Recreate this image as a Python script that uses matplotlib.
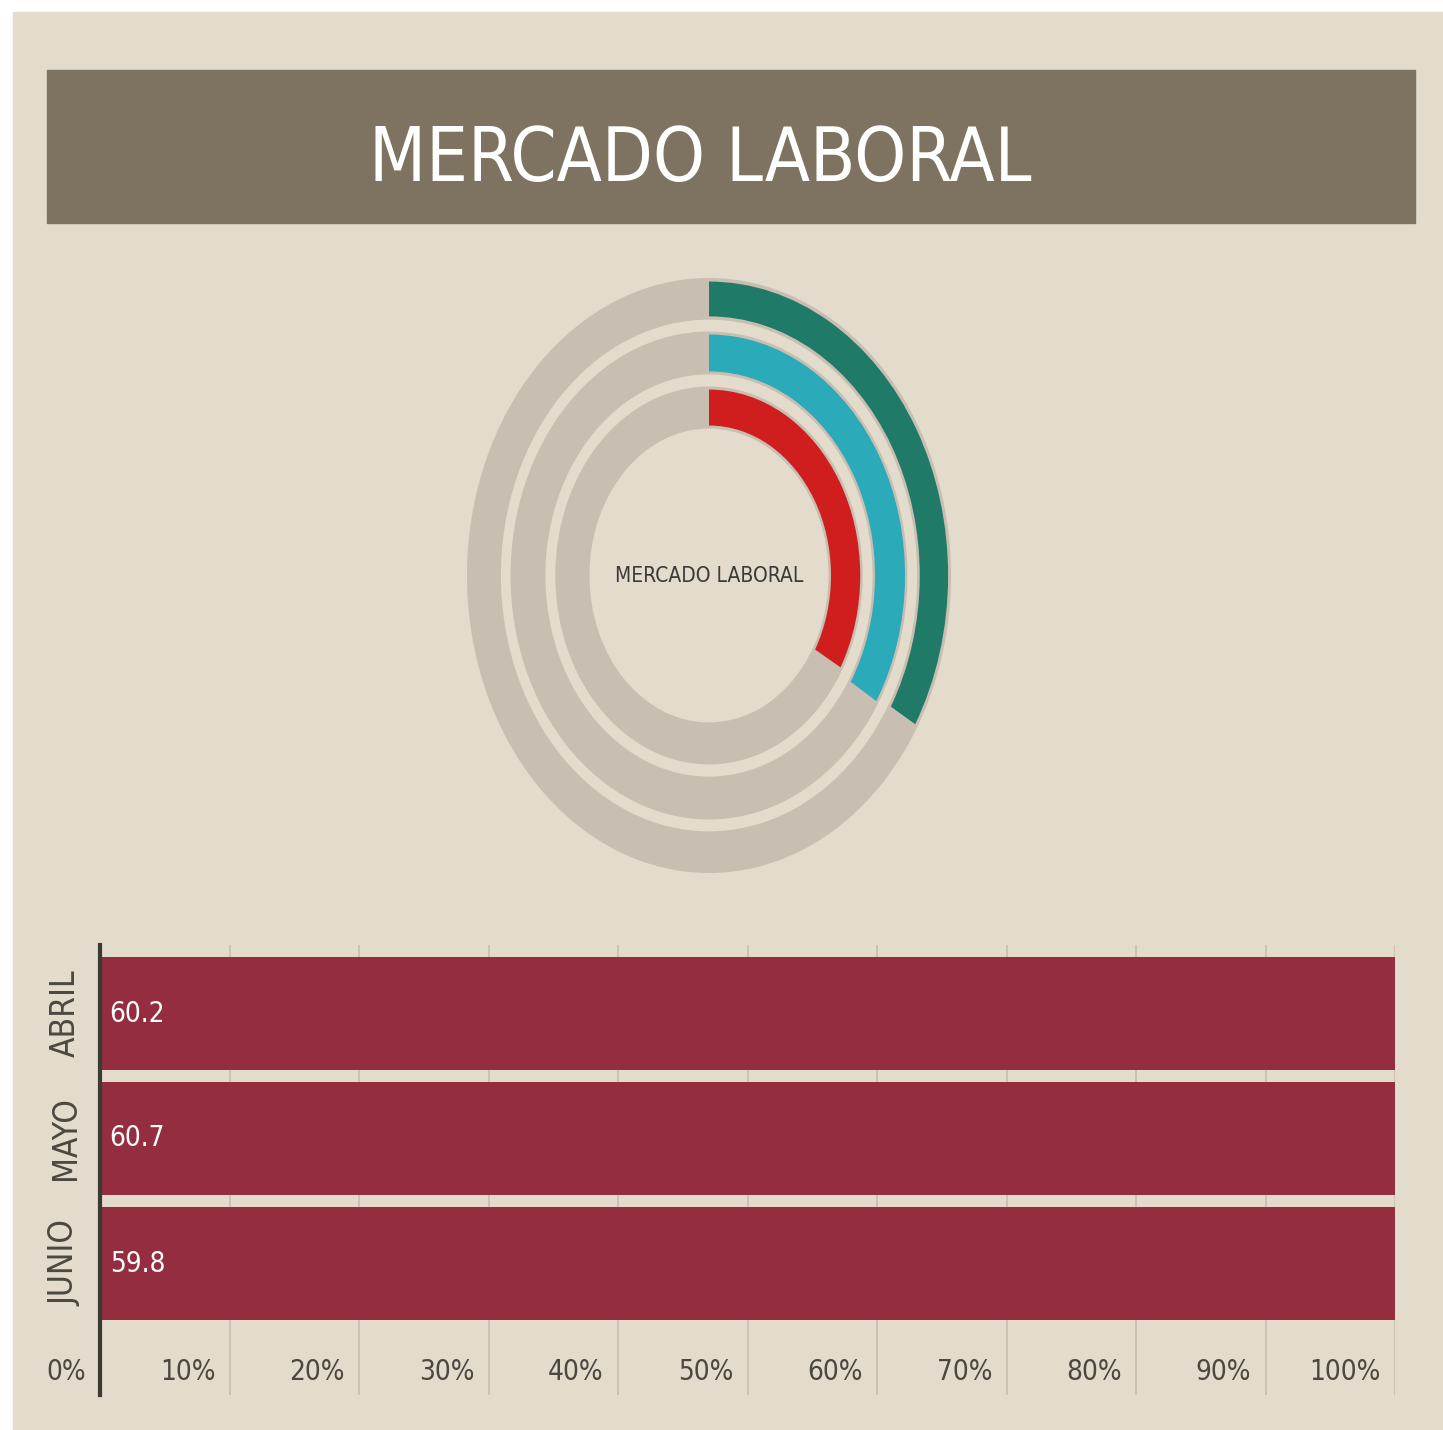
import matplotlib
matplotlib.use("Agg")
import matplotlib.pyplot as plt
from matplotlib.patches import Rectangle, Wedge

plt.rcParams['font.family'] = ['DejaVu Sans']
plt.rcParams['font.stretch'] = 'condensed'

# data
months = ["ABRIL", "MAYO", "JUNIO"]
values = [60.2, 60.7, 59.8]
ring_max = 180.0
ring_colors = ["#1F7A68", "#2BAAB9", "#D01E1F"]   # outer -> inner
tick_vals = [0, 10, 20, 30, 40, 50, 60, 70, 80, 90, 100]

W, H = 1443, 1430
fig = plt.figure(figsize=(W / 100, H / 100), dpi=100, facecolor="white")

bg = "#E3DBCB"
ring_gray = "#C8BEB1"
text_gray = "#4A4840"


def px_axes(x0, y0, x1, y1):
    return fig.add_axes([x0 / W, 1 - y1 / H, (x1 - x0) / W, (y1 - y0) / H])


# panel + title banner
fig.patches.append(Rectangle((13 / W, 0), 1 - 13 / W, 1 - 12 / H,
                             transform=fig.transFigure, color=bg, zorder=-2))
fig.patches.append(Rectangle((47 / W, 1 - 223 / H), (1415 - 47) / W, (223 - 70) / H,
                             transform=fig.transFigure, color="#7E7360", zorder=-1))
fig.text(700 / W, 1 - 181 / H, "MERCADO LABORAL", color="white", fontsize=53,
         ha="center", va="baseline")

#%% radial chart
axr = px_axes(467, 278, 951, 873)
axr.set_xlim(-1, 1)
axr.set_ylim(-1, 1)
axr.set_aspect("auto")
axr.axis("off")

gray_rings = [(1.0, 0.140), (0.820, 0.144), (0.635, 0.141)]
col_rings = [(0.988, 0.117), (0.810, 0.124), (0.625, 0.121)]
for (r, w) in gray_rings:
    axr.add_patch(Wedge((0, 0), r, 0, 360, width=w, color=ring_gray, lw=0))
for (r, w), v, c in zip(col_rings, values, ring_colors):
    ang = v / ring_max * 360
    axr.add_patch(Wedge((0, 0), r, 90 - ang, 90, width=w, color=c, lw=0))
axr.text(0, 0, "MERCADO LABORAL", ha="center", va="center", fontsize=15,
         color="#3A3A38")

#%% bar chart
axb = px_axes(100, 945, 1395, 1395)
axb.set_facecolor("none")
axb.set_xlim(0, 100)
axb.set_ylim(3.052, -0.548)
shares = [v / v * 100 for v in values]
ypos = list(range(len(months)))
axb.vlines(tick_vals[1:], -0.548, 3.052, color="#C6BEB1", lw=1.2, zorder=1)
axb.barh(ypos, shares, height=0.9, color="#952D41", zorder=2)
for y, v in zip(ypos, values):
    axb.text(0.75, y, f"{v}", ha="left", va="center", color="white",
             fontsize=20, zorder=3)
for t in tick_vals:
    axb.text(t - 1.1, 2.868, f"{t}%", ha="right", va="center", color=text_gray,
             fontsize=20, zorder=3)
for sp in ["top", "right", "bottom"]:
    axb.spines[sp].set_visible(False)
axb.spines["left"].set_linewidth(3)
axb.spines["left"].set_color("#3B3A34")
axb.set_xticks([])
axb.set_yticks([])
for y, m in zip(ypos, months):
    ytxt = 1 - (945 + (y + 0.548) * 125) / H
    fig.text(65 / W, ytxt, m, rotation=90, ha="center", va="center",
             color=text_gray, fontsize=24)

fig.savefig("out.png", dpi=100, facecolor="white")
